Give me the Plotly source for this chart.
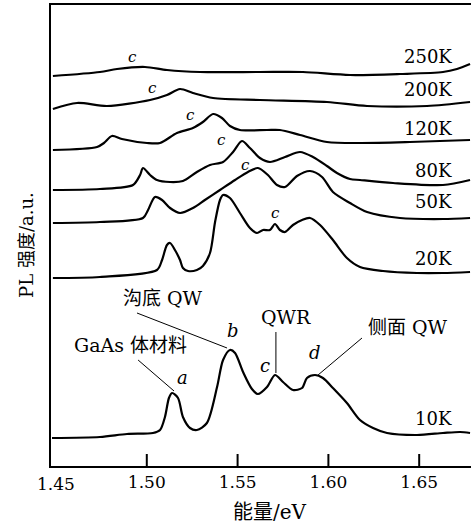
import plotly.graph_objects as go

# ---------------- data (photon energy in eV, PL intensity in a.u. incl. vertical offsets) -------------
e_10K = [1.4478, 1.4742, 1.4891, 1.5034, 1.5073, 1.5100, 1.5122, 1.5139, 1.5172, 1.5199, 1.5238, 1.5276,
         1.5331, 1.5387, 1.5420, 1.5458, 1.5486, 1.5530, 1.5579, 1.5612, 1.5662, 1.5706, 1.5750,
         1.5805, 1.5855, 1.5882, 1.5926, 1.5970, 1.6025, 1.6102, 1.6174, 1.6246, 1.6323, 1.6488,
         1.6631, 1.6725, 1.6780]
i_10K = [28, 29, 32, 33, 36, 49, 68, 73, 68, 49, 38, 36,
         43, 79, 106, 116, 113, 94, 77, 72, 79, 91, 84,
         76, 78, 88, 91, 88, 78, 63, 46, 38, 33, 31,
         33, 34, 33]

e_20K = [1.4483, 1.4742, 1.5056, 1.5084, 1.5111, 1.5128, 1.5155, 1.5183, 1.5199, 1.5227, 1.5276,
         1.5309, 1.5348, 1.5376, 1.5403, 1.5420, 1.5458, 1.5513, 1.5568, 1.5607, 1.5640, 1.5678,
         1.5706, 1.5733, 1.5761, 1.5805, 1.5855, 1.5899, 1.5954, 1.6025, 1.6102, 1.6174, 1.6301,
         1.6488, 1.6631, 1.6780]
i_20K = [188, 189, 196, 206, 221, 223, 216, 206, 198, 195, 196,
         200, 213, 244, 266, 271, 268, 253, 238, 233, 236, 236,
         242, 236, 234, 241, 246, 248, 241, 226, 208, 199, 195,
         193, 193, 194]

e_50K = [1.4483, 1.4742, 1.4979, 1.5007, 1.5045, 1.5084, 1.5128, 1.5183, 1.5254, 1.5320, 1.5403,
         1.5486, 1.5557, 1.5612, 1.5667, 1.5717, 1.5761, 1.5827, 1.5899, 1.5965, 1.6025, 1.6119,
         1.6213, 1.6394, 1.6631, 1.6780]
i_50K = [243, 244, 248, 256, 269, 266, 258, 253, 258, 266, 276,
         286, 294, 298, 291, 281, 279, 290, 295, 289, 274, 263,
         254, 248, 247, 248]

e_80K = [1.4483, 1.4742, 1.4924, 1.4963, 1.4979, 1.5018, 1.5056, 1.5128, 1.5199, 1.5276, 1.5348,
         1.5420, 1.5475, 1.5524, 1.5568, 1.5623, 1.5678, 1.5761, 1.5844, 1.5915, 1.5992, 1.6047,
         1.6119, 1.6174, 1.6356, 1.6631, 1.6780]
i_80K = [276, 277, 281, 291, 298, 291, 286, 284, 285, 294, 301,
         304, 314, 325, 318, 308, 304, 309, 314, 309, 300, 293,
         287, 286, 283, 281, 286]

e_120K = [1.4483, 1.4726, 1.4764, 1.4808, 1.4863, 1.5001, 1.5073, 1.5166, 1.5254, 1.5309, 1.5365,
          1.5414, 1.5458, 1.5513, 1.5662, 1.5733, 1.5844, 1.5992, 1.6174, 1.6449, 1.6780]
i_120K = [316, 319, 323, 330, 327, 323, 323, 333, 338, 344, 352,
          348, 340, 336, 336, 336, 331, 324, 323, 324, 326]

e_200K = [1.4483, 1.4616, 1.4781, 1.5018, 1.5111, 1.5183, 1.5254, 1.5365, 1.5623, 1.5992,
          1.6213, 1.6543, 1.6780]
i_200K = [357, 363, 360, 366, 371, 377, 373, 368, 366, 364,
          360, 360, 364]

e_250K = [1.4483, 1.4742, 1.4836, 1.4990, 1.5111, 1.5293, 1.5623, 1.5860, 1.6119, 1.6394,
          1.6631, 1.6708, 1.6780]
i_250K = [390, 394, 397, 399, 396, 394, 394, 394, 391, 392,
          394, 397, 402]

temps = ["10K", "20K", "50K", "80K", "120K", "200K", "250K"]
temp_label_y = [48, 208, 265, 296, 338, 377, 410]
c_label_e = [1.5706, 1.5541, 1.5414, 1.5238, 1.5034, 1.4924]
c_label_i = [253, 301, 326, 351, 378, 409]

tick_vals = [1.50, 1.55, 1.60, 1.65]
tick_text = ["1.50", "1.55", "1.60", "1.65"]
first_tick_label = ("1.45", 1.45)

x_range = [1.44725, 1.67853]
y_range = [0, 461]

SERIF = "DejaVu Serif, Liberation Serif, Noto Sans CJK SC, serif"

spectra = [(e_10K, i_10K), (e_20K, i_20K), (e_50K, i_50K), (e_80K, i_80K),
           (e_120K, i_120K), (e_200K, i_200K), (e_250K, i_250K)]

fig = go.Figure()
for (e, i), t in zip(spectra, temps):
    fig.add_trace(go.Scatter(x=e, y=i, mode="lines", name=t,
                             line=dict(color="black", width=2.2, shape="spline", smoothing=0.8),
                             hoverinfo="skip", showlegend=False))

# inward tick marks at the labelled energies, drawn as short vertical segments
tick_x, tick_y = [], []
for tv in tick_vals:
    tick_x += [tv, tv, None]
    tick_y += [0, 12, None]
fig.add_trace(go.Scatter(x=tick_x, y=tick_y, mode="lines", line=dict(color="black", width=2),
                         hoverinfo="skip", showlegend=False, cliponaxis=False))

ann = []
for t, yy in zip(temps, temp_label_y):
    ann.append(dict(x=1.6690, y=yy, text=t, xanchor="right", yanchor="middle", showarrow=False,
                    font=dict(family=SERIF, size=18, color="black")))
for ce, ci in zip(c_label_e, c_label_i):
    ann.append(dict(x=ce, y=ci, text="<i>c</i>", showarrow=False,
                    font=dict(family=SERIF, size=15, color="black")))

peak_labels = [("a", 1.5194, 89), ("b", 1.5475, 136), ("c", 1.5651, 101), ("d", 1.5926, 114)]
for txt, pe, pi in peak_labels:
    ann.append(dict(x=pe, y=pi, text=f"<i>{txt}</i>", showarrow=False,
                    font=dict(family=SERIF, size=18, color="black")))

names = [("GaAs 体材料", 1.4913, 121), ("沟底 QW", 1.5089, 168), ("QWR", 1.5767, 149), ("侧面 QW", 1.6438, 139)]
for txt, pe, pi in names:
    ann.append(dict(x=pe, y=pi, text=txt, showarrow=False,
                    font=dict(family=SERIF, size=19, color="black")))

# first tick label (no tick mark drawn at 1.45 in the original)
ann.append(dict(x=first_tick_label[1], y=0, yref="paper", text=first_tick_label[0], yanchor="top",
                yshift=-6, showarrow=False, font=dict(family=SERIF, size=17, color="black")))

ann.append(dict(xref="paper", yref="paper", x=-0.09, y=0.479, text="PL 强度/a.u.", textangle=-90,
                showarrow=False, font=dict(family=SERIF, size=18, color="black")))
ann.append(dict(xref="paper", yref="paper", x=0.5214, y=-0.0998, text="能量/eV", yanchor="middle",
                showarrow=False, font=dict(family=SERIF, size=20, color="black")))

leaders = [((1.4952, 106), (1.5150, 75)),
           ((1.4946, 153), (1.5442, 118)),
           ((1.5711, 134), (1.5711, 93)),
           ((1.6185, 128), (1.5943, 91))]
shapes = [dict(type="line", xref="x", yref="y", x0=a[0], y0=a[1], x1=b[0], y1=b[1],
               line=dict(color="black", width=1)) for a, b in leaders]

fig.update_layout(
    width=471, height=529,
    margin=dict(l=51, r=0, t=5, b=63),
    paper_bgcolor="white", plot_bgcolor="white",
    annotations=ann, shapes=shapes,
    xaxis=dict(range=x_range, showline=True, linewidth=2, linecolor="black", mirror=True,
               ticks="", tickvals=tick_vals, ticktext=tick_text, showgrid=False, zeroline=False,
               tickfont=dict(family=SERIF, size=17, color="black")),
    yaxis=dict(range=y_range, showline=True, linewidth=2, linecolor="black", mirror=False,
               ticks="", showticklabels=False, showgrid=False, zeroline=False),
)

fig.write_html("out.html", config={"displayModeBar": False},
               post_script="document.body.style.margin='0';")
